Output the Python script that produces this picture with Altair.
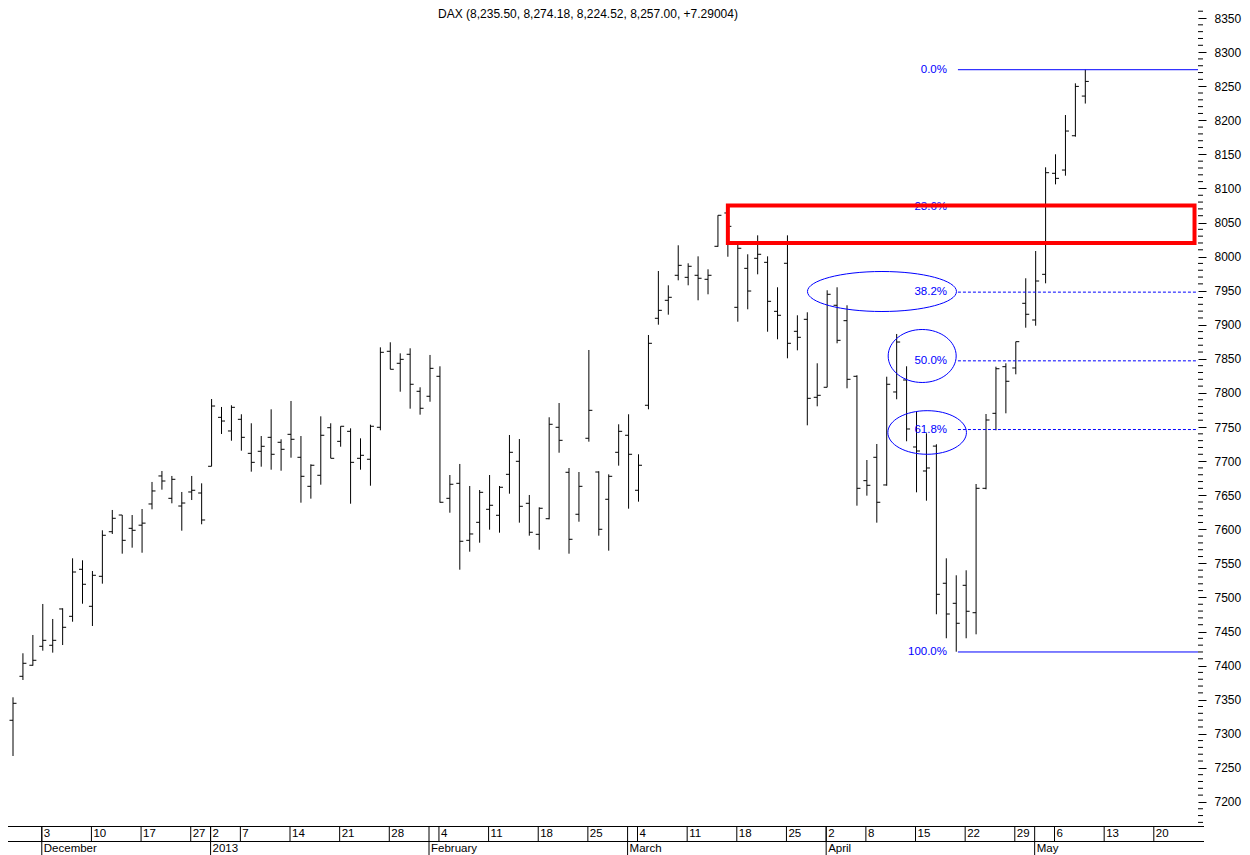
import altair as alt
import pandas as pd

# ---- DAX daily OHLC (28 Nov 2012 .. 9 May 2013), one bar per trading day
opens = [7319.8, 7384.3, 7400.5, 7428.3, 7429.8, 7483.1, 7472.3, 7541.3, 7487.0, 7531.0,
         7596.4, 7620.9, 7601.4, 7606.0, 7637.1, 7678.2, 7645.4, 7634.1, 7654.7, 7653.2,
         7692.4, 7764.2, 7744.2, 7761.3, 7711.4, 7714.4, 7734.9, 7727.6, 7739.3, 7705.6,
         7663.0, 7679.2, 7749.0, 7729.0, 7743.7, 7704.1, 7702.7, 7749.6, 7861.1, 7843.5,
         7856.7, 7802.4, 7795.1, 7824.4, 7645.4, 7667.4, 7583.8, 7610.2, 7629.3, 7620.5,
         7680.6, 7699.7, 7638.1, 7592.6, 7615.5, 7749.6, 7683.6, 7622.0, 7733.5, 7684.0,
         7644.0, 7712.9, 7737.9, 7657.2, 7781.9, 7909.5, 7935.9, 7972.6, 7969.6, 7972.6,
         7966.7, 8015.1, 8064.0, 7925.6, 7982.8, 7997.5, 7991.6, 7919.7, 7990.2, 7890.4,
         7908.0, 7793.6, 7808.3, 7928.6, 7906.0, 7824.4, 7671.3, 7705.6, 7665.0, 7801.4,
         7819.0, 7720.7, 7685.5, 7722.0, 7520.8, 7491.4, 7517.8, 7477.6, 7660.1, 7770.1,
         7838.5, 7836.6, 7931.5, 7907.0, 7974.0, 8122.2, 8127.0, 8177.3, 8235.50]
highs = [7353.5, 7418.1, 7444.9, 7490.4, 7468.4, 7484.1, 7557.4, 7554.5, 7538.8, 7598.5,
         7628.3, 7620.9, 7620.9, 7629.7, 7669.4, 7685.5, 7678.2, 7654.7, 7678.2, 7667.4,
         7791.1, 7779.4, 7781.9, 7768.7, 7755.5, 7736.8, 7776.0, 7732.0, 7788.2, 7736.8,
         7695.3, 7765.7, 7755.5, 7751.1, 7748.1, 7733.4, 7753.4, 7866.9, 7874.3, 7858.1,
         7865.5, 7808.3, 7855.7, 7839.1, 7679.6, 7695.8, 7663.5, 7657.6, 7679.6, 7663.5,
         7738.3, 7732.4, 7650.3, 7632.2, 7764.3, 7785.2, 7689.9, 7684.0, 7863.0, 7685.1,
         7680.6, 7754.0, 7768.7, 7710.0, 7885.0, 7978.9, 7957.9, 8016.6, 7990.2, 8000.4,
         7981.4, 8060.6, 8075.2, 8022.4, 8003.4, 8031.2, 8000.4, 7955.0, 8031.2, 7913.9,
         7918.3, 7843.5, 7950.6, 7955.0, 7928.6, 7825.9, 7701.6, 7725.1, 7823.8, 7886.5,
         7839.1, 7772.5, 7740.8, 7724.7, 7557.4, 7532.5, 7539.8, 7666.4, 7769.1, 7838.5,
         7843.5, 7875.2, 7968.2, 8008.2, 8131.0, 8150.1, 8207.7, 8254.2, 8274.18]
lows = [7267.4, 7378.9, 7399.9, 7421.9, 7419.0, 7430.2, 7464.4, 7490.8, 7458.1, 7520.2,
        7593.1, 7564.2, 7573.0, 7565.6, 7629.3, 7658.1, 7638.1, 7597.9, 7642.9, 7607.3,
        7692.4, 7739.8, 7729.9, 7715.3, 7684.5, 7691.8, 7687.4, 7685.9, 7705.0, 7639.0,
        7644.9, 7665.4, 7704.1, 7721.1, 7637.5, 7687.4, 7663.9, 7745.2, 7834.7, 7801.8,
        7776.9, 7768.1, 7787.1, 7639.0, 7624.3, 7540.7, 7567.1, 7580.3, 7599.4, 7595.0,
        7652.2, 7609.7, 7590.6, 7570.0, 7614.6, 7712.3, 7564.2, 7611.1, 7728.5, 7590.6,
        7568.6, 7693.3, 7630.2, 7640.5, 7776.0, 7900.1, 7914.8, 7965.2, 7957.9, 7935.9,
        7944.7, 8014.5, 7999.8, 7904.5, 7922.7, 7974.0, 7889.8, 7878.7, 7850.8, 7862.5,
        7752.5, 7780.4, 7808.3, 7872.8, 7806.8, 7634.6, 7649.3, 7609.7, 7663.9, 7790.7,
        7729.1, 7654.2, 7641.9, 7475.3, 7440.1, 7420.4, 7440.1, 7445.9, 7658.6, 7745.2,
        7770.1, 7827.3, 7895.7, 7898.6, 7960.8, 8106.0, 8118.7, 8175.9, 8224.52]
closes = [7344.7, 7403.4, 7407.8, 7437.1, 7437.1, 7456.2, 7537.3, 7519.3, 7532.5, 7591.2,
          7616.1, 7583.8, 7598.5, 7609.0, 7656.2, 7670.8, 7673.3, 7638.5, 7657.2, 7613.6,
          7780.8, 7758.8, 7778.9, 7734.9, 7698.2, 7721.7, 7710.0, 7717.3, 7732.0, 7677.7,
          7693.9, 7737.9, 7704.1, 7751.1, 7698.2, 7708.5, 7751.1, 7859.6, 7834.7, 7849.3,
          7812.7, 7777.5, 7836.1, 7639.6, 7666.0, 7582.4, 7593.1, 7654.2, 7635.2, 7661.6,
          7712.9, 7633.7, 7595.6, 7630.8, 7754.0, 7730.5, 7585.3, 7663.0, 7774.5, 7600.0,
          7677.7, 7743.7, 7710.0, 7693.9, 7872.8, 7921.2, 7940.3, 7987.2, 7985.8, 7968.2,
          7972.6, 8060.6, 8044.4, 8012.2, 7949.5, 8003.4, 7934.4, 7913.9, 7872.8, 7881.6,
          7792.1, 7796.5, 7944.7, 7877.2, 7820.0, 7660.1, 7664.5, 7639.6, 7812.7, 7874.7,
          7747.1, 7714.8, 7689.9, 7504.6, 7475.7, 7462.1, 7479.7, 7660.1, 7760.3, 7835.5,
          7817.1, 7875.2, 7915.4, 7964.2, 8123.1, 8114.8, 8184.2, 8249.7, 8257.00]

# x-axis: week labels (first trading day of each week) and month labels, as trading-day index
day_labels = ["3", "10", "17", "27", "2", "7", "14", "21", "28", "4", "11", "18", "25",
              "4", "11", "18", "25", "2", "8", "15", "22", "29", "6", "13", "20"]
day_index = [3, 8, 13, 18, 20, 23, 28, 33, 38, 43, 48, 53, 58,
             63, 68, 73, 78, 82, 86, 91, 96, 101, 105, 110, 115]
month_labels = ["December", "2013", "February", "March", "April", "May"]
month_index = [3, 20, 42, 62, 82, 103]

y_labels = list(range(7200, 8351, 50))
y_minor = [v for v in range(7170, 8361, 10) if v % 50 != 0]

title_text = "DAX (8,235.50, 8,274.18, 8,224.52, 8,257.00, +7.29004)"

# Fibonacci retracement between swing high and swing low
swing_high = 8274.18
swing_low = 7420.0
fib_names = ["0.0%", "23.6%", "38.2%", "50.0%", "61.8%", "100.0%"]
fib_ratio = [0.0, 0.236, 0.382, 0.5, 0.618, 1.0]

# Highlighted resistance zone
zone_low, zone_high = 8020.0, 8075.0

# ---------------------------------------------------------------
W, H = 1190, 818
RIGHT, BOTTOM = 44, 31
FONT = "Liberation Sans"
BLUE = "#0000ff"

n = len(opens)
df = pd.DataFrame({"i": list(range(n)), "open": opens, "high": highs,
                   "low": lows, "close": closes})

xs = alt.Scale(domain=[-0.504, 119.35], nice=False, zero=False)
ys = alt.Scale(domain=[7164.7, 8364.7], nice=False, zero=False)

yaxis = alt.Axis(orient="right", values=y_labels, format="d", tickSize=8,
                 tickColor="black", tickWidth=1, domain=False, grid=False,
                 labelFont=FONT, labelFontSize=12, labelColor="black",
                 labelPadding=8, labelFlush=False, labelOverlap=False, title=None)


def X(f):
    return alt.X(f, type="quantitative", scale=xs, axis=None)


def Y(f):
    return alt.Y(f, type="quantitative", scale=ys, axis=yaxis)


hilo = alt.Chart(df).mark_rule(color="black", strokeWidth=1).encode(
    x=X("i"), y=Y("low"), y2="high:Q")
open_tick = alt.Chart(df).mark_rule(color="black", strokeWidth=1, xOffset=-3.5).encode(
    x=X("i"), x2="i:Q", y=Y("open"))
close_tick = alt.Chart(df).mark_rule(color="black", strokeWidth=1, x2Offset=3.5).encode(
    x=X("i"), x2="i:Q", y=Y("close"))

minor_df = pd.DataFrame({"v": y_minor})
minor = alt.Chart(minor_df).mark_rule(color="black", strokeWidth=1).encode(
    x=alt.value(W), x2=alt.value(W + 5), y=Y("v"))

# Fibonacci levels
fib_df = pd.DataFrame({"name": fib_names, "ratio": fib_ratio})
fib_df["level"] = swing_high - fib_df["ratio"] * (swing_high - swing_low)
fib_df["start"] = 95.17
fib_df["lab_x"] = 94.07
solid_df = fib_df[fib_df["ratio"].isin([0.0, 1.0])]
dash_df = fib_df[fib_df["ratio"].isin([0.382, 0.5, 0.618])]

fib_solid = alt.Chart(solid_df).mark_rule(color=BLUE, strokeWidth=1).encode(
    x=X("start"), x2=alt.value(W), y=Y("level"))
fib_dash = alt.Chart(dash_df).mark_rule(color=BLUE, strokeWidth=1, strokeDash=[3, 2]).encode(
    x=X("start"), x2=alt.value(W), y=Y("level"))
fib_text = alt.Chart(fib_df).mark_text(color=BLUE, font=FONT, fontSize=11.5,
                                       align="right", baseline="middle").encode(
    x=X("lab_x"), y=Y("level"), text="name:N")


# Ellipses drawn around the retracement labels
def ellipse_path(r):
    k = 0.5523
    return (f"M 1 0 C 1 {k*r:.4f} {k:.4f} {r:.4f} 0 {r:.4f} "
            f"C {-k:.4f} {r:.4f} -1 {k*r:.4f} -1 0 "
            f"C -1 {-k*r:.4f} {-k:.4f} {-r:.4f} 0 {-r:.4f} "
            f"C {k:.4f} {-r:.4f} 1 {-k*r:.4f} 1 0 Z")


ellipse_specs = [  # centre (bar index, price), half-width px, half-height px
    (87.52, 7948.8, 74.5, 20.0),
    (91.57, 7854.2, 34.0, 26.5),
    (92.07, 7742.0, 39.3, 21.8),
]
ellipses = []
for cx, cy, rx, ry in ellipse_specs:
    edf = pd.DataFrame({"cx": [cx], "cy": [cy]})
    ellipses.append(
        alt.Chart(edf).mark_point(shape=ellipse_path(ry / rx), size=(2 * rx) ** 2,
                                  filled=False, color=BLUE, strokeWidth=1, opacity=1)
        .encode(x=X("cx"), y=Y("cy")))

# Red resistance box
zone_df = pd.DataFrame({"x0": [72.0], "x1": [119.0], "y0": [zone_low], "y1": [zone_high]})
zone = alt.Chart(zone_df).mark_rect(fillOpacity=0, stroke="#ff0000", strokeWidth=4).encode(
    x=X("x0"), x2="x1:Q", y=Y("y0"), y2="y1:Q")

# Title text at top of plot
title_df = pd.DataFrame({"t": [title_text]})
title = alt.Chart(title_df).mark_text(font=FONT, fontSize=12, color="black",
                                      align="center", baseline="top").encode(
    x=alt.value(580), y=alt.value(1), text="t:N")

# Custom two-row date axis
one = pd.DataFrame({"a": [0]})
hline1 = alt.Chart(one).mark_rule(color="black", strokeWidth=1).encode(
    x=alt.value(0), x2=alt.value(W + 6), y=alt.value(H + 0.5))
hline2 = alt.Chart(one).mark_rule(color="black", strokeWidth=1).encode(
    x=alt.value(0), x2=alt.value(W + 6), y=alt.value(H + 15.5))

days_df = pd.DataFrame({"pos": day_index, "lab": day_labels})
months_df = pd.DataFrame({"pos": month_index, "lab": month_labels})

day_sep = alt.Chart(days_df).mark_rule(color="black", strokeWidth=1, xOffset=-1).encode(
    x=X("pos"), y=alt.value(H), y2=alt.value(H + 15))
day_txt = alt.Chart(days_df).mark_text(font=FONT, fontSize=11.5, color="black",
                                       align="left", baseline="middle", dx=1).encode(
    x=X("pos"), y=alt.value(H + 8), text="lab:N")
month_sep = alt.Chart(months_df).mark_rule(color="black", strokeWidth=1, xOffset=-1).encode(
    x=X("pos"), y=alt.value(H), y2=alt.value(H + 30))
month_txt = alt.Chart(months_df).mark_text(font=FONT, fontSize=11.5, color="black",
                                           align="left", baseline="middle", dx=1).encode(
    x=X("pos"), y=alt.value(H + 23), text="lab:N")

chart = alt.layer(
    hilo, open_tick, close_tick, fib_solid, fib_dash, fib_text, *ellipses,
    zone, minor, title,
    hline1, hline2, day_sep, day_txt, month_sep, month_txt,
).properties(
    width=W, height=H,
    autosize=alt.AutoSizeParams(type="none"),
    padding={"left": 0, "top": 0, "right": RIGHT, "bottom": BOTTOM},
    background="white",
).configure_view(strokeWidth=0)

chart.save("out.html", embed_options={"renderer": "svg", "actions": False})
